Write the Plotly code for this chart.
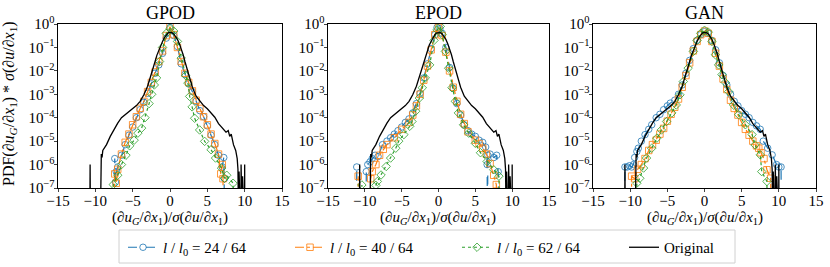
import plotly.graph_objects as go

# ---------------- data ----------------
orig_x = [-10.75, -10.7, -10.65, -9.35, -9.3, -9.2, -9.1, -9.0, -8.8, -8.5, -8.0, -7.5, -7.0,
          -6.5, -6.0, -5.5, -5.0, -4.5, -4.0, -3.5, -3.0, -2.5, -2.25, -2.0, -1.75, -1.5,
          -1.25, -1.0, -0.75, -0.5, -0.25, 0.0, 0.25, 0.5, 0.75, 1.0, 1.25, 1.5, 1.75, 2.0,
          2.25, 2.5, 3.0, 3.5, 4.0, 4.5, 5.0, 5.5, 6.0, 6.5, 7.0, 7.5, 7.8, 8.0, 8.2, 8.5,
          8.8, 9.0, 9.1, 9.15, 9.2, 9.25, 9.3, 9.5, 9.52, 9.55, 9.7, 9.72, 9.75, 9.98, 10.0, 10.02]
orig_y = [1e-9, 1.0e-6, 1e-9, 1e-9, 1.3e-6, 2.8e-6, 2.0e-6, 4.0e-6, 5.0e-6, 7.1e-6, 1.6e-5, 3.2e-5, 5.9e-5,
          1.0e-4, 1.35e-4, 1.9e-4, 2.5e-4, 3.3e-4, 5.0e-4, 9.5e-4, 2.2e-3, 6.8e-3, 1.26e-2, 2.5e-2, 4.7e-2, 7.9e-2,
          0.126, 0.18, 0.26, 0.35, 0.42, 0.44, 0.43, 0.38, 0.30, 0.22, 0.145, 0.089, 0.05, 0.025,
          1.26e-2, 6.3e-3, 2.0e-3, 8.3e-4, 5.0e-4, 3.3e-4, 2.4e-4, 1.66e-4, 1.05e-4, 5.6e-5, 3.5e-5, 2.4e-5, 2.8e-5, 1.6e-5, 2.0e-5, 7.1e-6,
          4.0e-6, 1.8e-6, 6.3e-7, 1e-9, 1e-9, 5.0e-7, 1e-9, 1e-9, 1.0e-6, 1e-9, 1e-9, 3.2e-7, 1e-9, 1e-9, 1.0e-6, 1e-9]

# GPOD
gpod24_x = [-7.45, -7.4, -7.3, -7.2, -7.0, -6.5, -6.0, -5.5, -5.0, -4.5, -4.0, -3.5, -3.0, -2.5, -2.0, -1.5,
            -1.0, -0.5, 0.0, 0.5, 1.0, 1.5, 2.0, 2.5, 3.0, 3.5, 4.0, 4.5, 5.0, 5.5, 6.0, 6.5, 7.0, 7.2, 7.3, 7.35]
gpod24_y = [1e-9, 1.8e-6, 1.8e-7, 5.0e-7, 7.9e-7, 2.5e-6, 7.1e-6, 1.8e-5, 4.0e-5, 1.0e-4, 2.2e-4, 4.5e-4, 1.1e-3, 2.8e-3, 7.9e-3, 1.8e-2,
            5.6e-2, 0.25, 0.71, 0.32, 0.11, 2.0e-2, 7.1e-3, 2.8e-3, 1.3e-3, 5.0e-4, 2.0e-4, 1.1e-4, 4.5e-5, 1.8e-5, 7.1e-6, 2.5e-6, 7.9e-7, 2.0e-6, 2.5e-7, 1e-9]
gpod40_x = [-7.5, -7.4, -7.2, -7.0, -6.5, -6.0, -5.5, -5.0, -4.5, -4.0, -3.5, -3.0, -2.5, -2.0, -1.5, -1.0, -0.5,
            0.0, 0.5, 1.0, 1.5, 2.0, 2.5, 3.0, 3.5, 4.0, 4.5, 5.0, 5.5, 6.0, 6.5, 6.8, 7.0, 7.1, 7.15]
gpod40_y = [1e-9, 4.0e-7, 1.6e-7, 6.3e-7, 2.8e-6, 8.9e-6, 2.0e-5, 5.0e-5, 1.1e-4, 2.5e-4, 5.0e-4, 1.3e-3, 3.2e-3, 8.9e-3, 2.5e-2, 7.1e-2, 0.32,
            0.76, 0.35, 0.10, 2.5e-2, 7.9e-3, 3.2e-3, 1.4e-3, 5.6e-4, 2.5e-4, 1.1e-4, 5.0e-5, 2.0e-5, 7.9e-6, 2.8e-6, 4.0e-7, 1.0e-6, 2.5e-7, 1e-9]
gpod62_x = [-7.65, -7.6, -7.0, -6.5, -5.9, -5.4, -4.8, -4.3, -3.8, -3.35, -2.8, -2.45, -2.1, -1.8, -1.4, -1.0, -0.5,
            0.0, 0.5, 1.0, 1.5, 2.1, 2.4, 2.63, 2.96, 3.3, 3.97, 4.64, 5.5, 6.1, 6.9, 7.3, 7.6, 8.45, 8.5]
gpod62_y = [1e-9, 1.4e-7, 3.5e-7, 1.0e-6, 2.5e-6, 6.3e-6, 1.1e-5, 2.2e-5, 3.6e-5, 1.0e-4, 4.0e-4, 1.0e-3, 2.5e-3, 5.0e-3, 2.5e-2, 0.10, 0.40,
            0.63, 0.50, 0.18, 3.5e-2, 6.3e-3, 3.0e-3, 8.1e-4, 2.9e-4, 9.5e-5, 3.0e-5, 9.8e-6, 4.3e-6, 1.9e-6, 7.1e-7, 2.6e-7, 3.5e-7, 1.6e-7, 1e-9]

# EPOD
epod24_x = [-11.15, -11.1, -11.05, -9.85, -9.8, -9.6, -9.3, -9.0, -8.6, -8.2, -7.6, -7.0, -6.5, -6.0, -5.5, -5.0,
            -4.5, -4.0, -3.5, -3.0, -2.5, -2.0, -1.5, -1.0, -0.5, -0.2, 0.2, 0.5, 1.0, 1.5, 2.0, 2.5,
            3.0, 3.5, 4.0, 4.5, 5.0, 5.5, 6.0, 6.4, 6.6, 6.65, 6.7, 7.0, 7.5, 7.9, 8.1, 8.2]
epod24_y = [1e-9, 7.9e-7, 1e-9, 1e-9, 5.0e-7, 1.0e-6, 1.3e-6, 1.8e-6, 2.5e-6, 2.2e-6, 7.1e-6, 1.0e-5, 1.4e-5, 2.0e-5, 2.8e-5, 4.0e-5,
            6.3e-5, 8.9e-5, 1.6e-4, 4.0e-4, 1.1e-3, 5.0e-3, 2.0e-2, 8.9e-2, 0.35, 0.71, 0.63, 0.40, 0.10, 1.4e-2, 1.8e-3, 4.0e-4,
            1.3e-4, 5.0e-5, 2.8e-5, 2.0e-5, 1.6e-5, 1.1e-5, 8.9e-6, 5.6e-6, 1.0e-6, 1e-9, 2.5e-6, 2.8e-6, 2.0e-6, 2.5e-6, 5.0e-7, 1e-9]
epod40_x = [-10.95, -10.9, -10.85, -9.3, -9.2, -9.0, -8.5, -8.0, -7.5, -7.0, -6.0, -5.0, -4.0, -3.5, -3.0, -2.5, -2.0,
            -1.5, -1.0, -0.5, 0.0, 0.5, 1.0, 1.5, 2.0, 2.5, 3.0, 3.5, 4.0, 5.0, 5.5, 6.0, 6.5, 7.0, 7.5, 7.85, 7.9]
epod40_y = [1e-9, 3.2e-7, 1e-9, 1e-9, 2.5e-7, 5.0e-7, 1.0e-6, 2.5e-6, 4.5e-6, 7.1e-6, 1.4e-5, 3.2e-5, 6.3e-5, 1.3e-4, 3.2e-4, 1.0e-3, 4.0e-3,
            1.6e-2, 7.9e-2, 0.35, 0.71, 0.32, 6.3e-2, 1.0e-2, 2.0e-3, 5.0e-4, 1.4e-4, 5.6e-5, 2.5e-5, 1.1e-5, 7.9e-6, 5.0e-6, 2.8e-6, 1.1e-6, 3.5e-7, 1.4e-7, 1e-9]
epod62_x = [-10.45, -10.4, -10.35, -8.6, -8.5, -8.3, -7.8, -7.1, -6.5, -5.8, -5.4, -4.7, -3.9, -3.6, -3.1, -2.6, -2.2, -1.8,
            -1.2, -0.6, -0.2, 0.25, 0.5, 0.93, 1.38, 1.83, 2.28, 2.7, 3.4, 4.1, 5.0, 5.7, 6.6, 7.5, 8.2, 8.35]
epod62_y = [1e-9, 1.35e-7, 1e-9, 1e-9, 1.3e-7, 1.9e-7, 3.6e-7, 8.3e-7, 1.9e-6, 5.0e-6, 1.0e-5, 1.9e-5, 4.3e-5, 6.9e-5, 1.9e-4, 6.9e-4, 1.9e-3, 5.0e-3,
            1.8e-2, 0.20, 0.56, 0.79, 0.35, 6.8e-2, 1.3e-2, 1.9e-3, 5.0e-4, 1.6e-4, 5.0e-5, 2.2e-5, 8.1e-6, 3.2e-6, 1.35e-6, 6.0e-7, 3.2e-7, 1e-9]

# GAN
gan24_x = [-10.75, -10.7, -10.4, -10.1, -9.8, -9.55, -9.4, -9.1, -8.9, -8.5, -8.0, -7.5, -7.1, -6.5, -6.0, -5.5, -5.0,
           -4.6, -4.0, -3.5, -3.0, -2.5, -2.0, -1.5, -1.0, -0.5, 0.0, 0.5, 1.0, 1.5, 2.0, 2.5, 3.0, 3.5, 4.0, 4.5,
           5.0, 5.5, 6.0, 6.5, 7.0, 7.5, 7.9, 8.5, 9.1, 9.7, 10.0, 10.3, 10.35]
gan24_y = [1e-9, 7.9e-7, 7.9e-7, 8.9e-7, 7.9e-7, 1.0e-6, 2.0e-6, 3.6e-6, 5.0e-6, 1.0e-5, 1.9e-5, 3.2e-5, 5.0e-5, 1.0e-4, 1.4e-4, 2.2e-4, 3.2e-4,
           4.2e-4, 5.6e-4, 1.0e-3, 2.5e-3, 7.9e-3, 2.8e-2, 8.9e-2, 0.20, 0.35, 0.47, 0.40, 0.20, 7.9e-2, 2.2e-2, 6.3e-3, 2.5e-3, 1.0e-3, 5.0e-4, 3.2e-4,
           2.0e-4, 1.4e-4, 1.0e-4, 6.3e-5, 4.5e-5, 3.2e-5, 1.0e-5, 5.0e-6, 2.6e-6, 1.0e-6, 7.9e-7, 7.9e-7, 1e-9]
gan40_x = [-9.85, -9.8, -9.4, -9.0, -8.5, -8.0, -7.5, -7.0, -6.5, -6.0, -5.5, -5.0, -4.5, -4.0, -3.5, -3.0, -2.5, -2.0,
           -1.5, -1.0, -0.5, 0.0, 0.5, 1.0, 1.5, 2.0, 2.5, 3.0, 3.5, 4.0, 4.5, 5.0, 5.5, 6.0, 6.5, 7.0, 7.3, 7.6,
           8.0, 8.4, 8.9, 9.0]
gan40_y = [1e-9, 3.2e-7, 2.5e-7, 6.3e-7, 1.0e-6, 1.8e-6, 4.0e-6, 7.1e-6, 1.1e-5, 2.0e-5, 3.5e-5, 7.1e-5, 1.4e-4, 2.8e-4, 6.3e-4, 2.0e-3, 6.3e-3, 2.2e-2,
           7.1e-2, 0.18, 0.35, 0.50, 0.40, 0.18, 5.6e-2, 1.6e-2, 4.5e-3, 1.6e-3, 5.6e-4, 2.5e-4, 1.3e-4, 6.3e-5, 3.2e-5, 1.8e-5, 1.0e-5, 6.3e-6, 5.0e-6, 3.2e-6,
           1.8e-6, 6.0e-7, 2.6e-7, 1e-9]
gan62_x = [-9.15, -9.1, -8.7, -8.2, -7.8, -7.1, -6.4, -5.8, -5.1, -4.4, -3.8, -3.3, -2.85, -2.2, -1.5, -1.0, -0.5,
           0.0, 0.5, 1.0, 1.46, 1.9, 2.35, 2.8, 3.25, 3.9, 4.6, 5.5, 6.4, 6.8, 7.5, 7.7, 8.4, 8.45]
gan62_y = [1e-9, 1.6e-7, 2.6e-7, 7.1e-7, 1.9e-6, 5.0e-6, 1.35e-5, 3.0e-5, 6.9e-5, 1.6e-4, 3.5e-4, 9.5e-4, 3.5e-3, 1.3e-2, 6.8e-2, 0.20, 0.40,
           0.54, 0.45, 0.18, 4.9e-2, 1.8e-2, 6.9e-3, 3.2e-3, 1.3e-3, 3.5e-4, 1.35e-4, 5.0e-5, 1.9e-5, 6.9e-6, 2.6e-6, 5.0e-7, 1.9e-7, 1e-9]

panel_titles = ["GPOD", "EPOD", "GAN"]
series_names = ["<i>l</i> / <i>l</i><sub>0</sub> = 24 / 64",
                "<i>l</i> / <i>l</i><sub>0</sub> = 40 / 64",
                "<i>l</i> / <i>l</i><sub>0</sub> = 62 / 64",
                "Original"]
panels = [
    [(gpod24_x, gpod24_y), (gpod40_x, gpod40_y), (gpod62_x, gpod62_y)],
    [(epod24_x, epod24_y), (epod40_x, epod40_y), (epod62_x, epod62_y)],
    [(gan24_x, gan24_y), (gan40_x, gan40_y), (gan62_x, gan62_y)],
]
x_ticks = [-15, -10, -5, 0, 5, 10, 15]
y_ticks = [1e-7, 1e-6, 1e-5, 1e-4, 1e-3, 1e-2, 1e-1, 1e0]
y_ticktext = ["10<sup>−7</sup>", "10<sup>−6</sup>", "10<sup>−5</sup>", "10<sup>−4</sup>",
              "10<sup>−3</sup>", "10<sup>−2</sup>", "10<sup>−1</sup>", "10<sup>0</sup>"]

# ---------------- styling ----------------
FONT = "Liberation Serif, Times New Roman, serif"
colors = ["#1f77b4", "#ff7f0e", "#2ca02c"]
dashes = ["dash", "dashdot", "dot"]
symbols = ["circle-open", "square-open", "diamond-open"]

W, H = 830, 267
ml, mr, mt, mb = 58, 14, 24, 79
pw = W - ml - mr
ph = H - mt - mb
px_domains = [(58, 282), (328, 549), (593, 816)]
domains = [((a - ml) / pw, (b - ml) / pw) for a, b in px_domains]


def px2x(px):
    return (px - ml) / pw


def px2y(py):
    return (H - mb - py) / ph


fig = go.Figure()
for p, series in enumerate(panels):
    xa = "x" if p == 0 else f"x{p+1}"
    ya = "y" if p == 0 else f"y{p+1}"
    for s, (xs, ys) in enumerate(series):
        fig.add_trace(go.Scatter(
            x=xs, y=ys, mode="lines+markers", name=series_names[s],
            legendgroup=f"s{s}", showlegend=(p == 0),
            line=dict(color=colors[s], dash=dashes[s], width=1.2),
            marker=dict(symbol=symbols[s], size=6.5, color=colors[s],
                        line=dict(width=1, color=colors[s]), opacity=0.8),
            xaxis=xa, yaxis=ya))
    fig.add_trace(go.Scatter(
        x=orig_x, y=orig_y, mode="lines", name=series_names[3],
        legendgroup="orig", showlegend=(p == 0),
        line=dict(color="black", width=1.3), xaxis=xa, yaxis=ya))

xlabel = "(∂<i>u</i><sub><i>G</i></sub>/∂<i>x</i><sub>1</sub>)/<i>σ</i>(∂<i>u</i>/∂<i>x</i><sub>1</sub>)"
layout = dict(
    width=W, height=H, margin=dict(l=ml, r=mr, t=mt, b=mb, autoexpand=False),
    plot_bgcolor="white", paper_bgcolor="white",
    font=dict(family=FONT, size=14, color="black"),
    legend=dict(orientation="h", x=px2x(123), xanchor="left", y=px2y(231), yanchor="top",
                bgcolor="rgba(0,0,0,0)", bordercolor="rgba(0,0,0,0)", borderwidth=0,
                font=dict(family=FONT, size=15), entrywidth=122, entrywidthmode="pixels",
                tracegroupgap=0),
    annotations=[],
    shapes=[dict(type="rect", xref="paper", yref="paper",
                 x0=px2x(119), x1=px2x(735), y0=px2y(263), y1=px2y(230),
                 line=dict(color="#d0d0d0", width=1), fillcolor="white", layer="below")],
)
for p in range(3):
    kx = "xaxis" if p == 0 else f"xaxis{p+1}"
    ky = "yaxis" if p == 0 else f"yaxis{p+1}"
    ya = "y" if p == 0 else f"y{p+1}"
    xa = "x" if p == 0 else f"x{p+1}"
    layout[kx] = dict(domain=list(domains[p]), anchor=ya, range=[-15, 15], tickvals=x_ticks,
                      showline=True, mirror=True, linecolor="black", linewidth=0.8,
                      ticks="outside", ticklen=3.5, tickwidth=0.8, showgrid=False, zeroline=False,
                      tickfont=dict(family=FONT, size=15), automargin=False,
                      ticklabelstandoff=-4)
    layout[ky] = dict(domain=[0, 1], anchor=xa, type="log", range=[-7, 0],
                      tickvals=y_ticks, ticktext=y_ticktext,
                      showline=True, mirror=True, linecolor="black", linewidth=0.8,
                      ticks="outside", ticklen=3.5, tickwidth=0.8, showgrid=False, zeroline=False,
                      tickfont=dict(family=FONT, size=15), automargin=False,
                      ticklabelstandoff=-4)
    cx = px2x(sum(px_domains[p]) / 2)
    layout["annotations"].append(dict(
        text=panel_titles[p], xref="paper", yref="paper",
        x=cx, y=1.0, yshift=-1, xanchor="center", yanchor="bottom",
        showarrow=False, font=dict(family=FONT, size=18)))
    layout["annotations"].append(dict(
        text=xlabel, xref="paper", yref="paper",
        x=cx, y=px2y(218), xanchor="center", yanchor="middle",
        showarrow=False, font=dict(family=FONT, size=15)))

layout["annotations"].append(dict(
    text="PDF(∂<i>u</i><sub><i>G</i></sub>/∂<i>x</i><sub>1</sub>) * <i>σ</i>(∂<i>u</i>/∂<i>x</i><sub>1</sub>)",
    xref="paper", yref="paper", x=px2x(9), y=px2y(104), xanchor="center", yanchor="middle",
    textangle=-90, showarrow=False, font=dict(family=FONT, size=16)))

fig.update_layout(**layout)
fig.write_html("out.html", config={"displayModeBar": False},
               post_script="document.body.style.margin='0px';document.body.style.padding='0px';")
